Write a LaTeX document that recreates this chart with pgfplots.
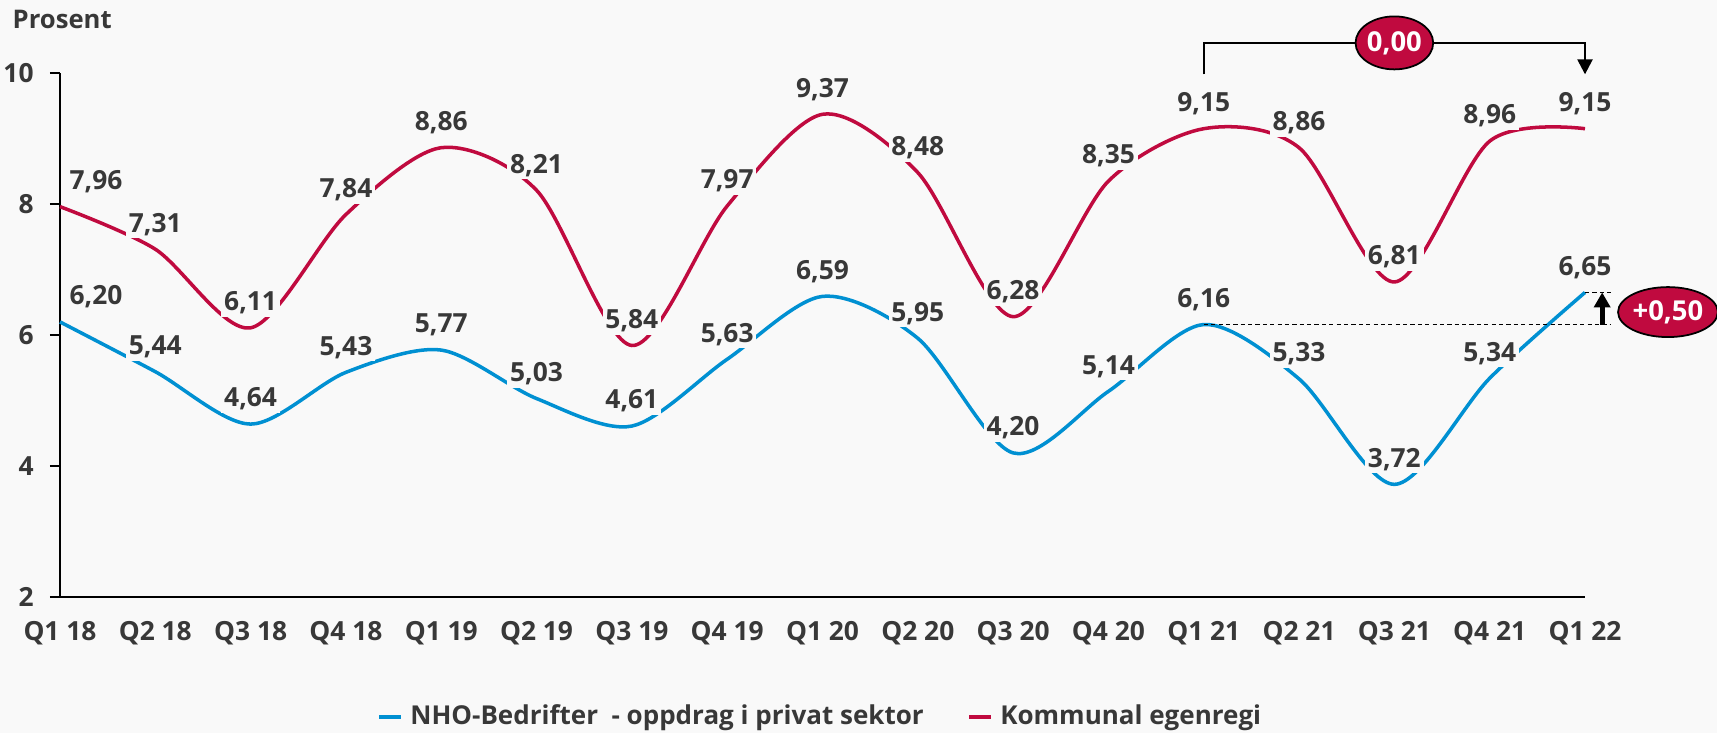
\documentclass[border=0pt]{standalone}
\usepackage{fontspec}
\setmainfont{Open Sans}
\usepackage{pgfplots}
\pgfplotsset{compat=1.18}
\usepackage{pgfplotstable}
\usetikzlibrary{arrows.meta,shapes.geometric}

\definecolor{bg}{RGB}{249,249,249}
\definecolor{nhoblue}{RGB}{0,144,210}
\definecolor{komred}{RGB}{192,10,63}
\definecolor{txt}{RGB}{56,56,56}
\newcommand{\lab}{\fontsize{7.5pt}{8.5pt}\selectfont\bfseries}

\pgfplotstableread{
x y lab
0 6.20 6,20
1 5.44 5,44
2 4.64 4,64
3 5.43 5,43
4 5.77 5,77
5 5.03 5,03
6 4.61 4,61
7 5.63 5,63
8 6.59 6,59
9 5.95 5,95
10 4.20 4,20
11 5.14 5,14
12 6.16 6,16
13 5.33 5,33
14 3.72 3,72
15 5.34 5,34
16 6.65 6,65
}\nho

\pgfplotstableread{
x y lab
0 7.96 7,96
1 7.31 7,31
2 6.11 6,11
3 7.84 7,84
4 8.86 8,86
5 8.21 8,21
6 5.84 5,84
7 7.97 7,97
8 9.37 9,37
9 8.48 8,48
10 6.28 6,28
11 8.35 8,35
12 9.15 9,15
13 8.86 8,86
14 6.81 6,81
15 8.96 8,96
16 9.15 9,15
}\kom

\begin{document}
\begin{tikzpicture}
\useasboundingbox (0,0) rectangle (171.7mm,73.3mm);
\fill[bg] (0,0) rectangle (171.7mm,73.3mm);
\node[anchor=west, font=\fontsize{7.3pt}{8pt}\selectfont\bfseries, text=txt, inner sep=0pt] at (1.2mm,71.4mm) {Prosent};
\begin{axis}[
  at={(6mm,13.6mm)}, anchor=south west,
  scale only axis, width=152.5mm, height=52.4mm,
  xmin=0, xmax=16, ymin=2, ymax=10,
  clip=false,
  axis lines=left,
  axis line style={-, line width=0.7pt, black},
  xtick={0,...,16},
  xticklabels={Q1 18,Q2 18,Q3 18,Q4 18,Q1 19,Q2 19,Q3 19,Q4 19,Q1 20,Q2 20,Q3 20,Q4 20,Q1 21,Q2 21,Q3 21,Q4 21,Q1 22},
  ytick={2,4,6,8,10},
  tick align=outside,
  major tick length=1mm,
  xtick style={draw=none},
  ytick style={line width=0.7pt, black},
  tick label style={font=\lab, text=txt},
  yticklabel style={xshift=-0.4mm},
  xticklabel style={yshift=-0.2mm},
  /pgf/number format/assume math mode=true,
  legend style={at={(0.5,-0.229)}, anchor=center, draw=none, fill=none,
    font=\fontsize{7.4pt}{8.5pt}\selectfont\bfseries, text=txt, legend columns=2,
    /tikz/every even column/.append style={column sep=3.6mm}},
  legend image code/.code={\draw[#1, line width=1.3pt] (0mm,0mm) -- (2.2mm,0mm);},
]
\addplot[nhoblue, line width=1pt, smooth, no markers,
  nodes near coords, point meta=explicit symbolic,
  nodes near coords style={anchor=center, yshift=2.5mm, fill=bg, inner sep=0.8pt, font=\lab, text=txt},
  coordinate style/.condition={\coordindex==0}{xshift=3.6mm}]
  table[x=x, y=y, meta=lab] {\nho};
\addlegendentry{NHO-Bedrifter\ \ - oppdrag i privat sektor}
\addplot[komred, line width=1pt, smooth, no markers,
  nodes near coords, point meta=explicit symbolic,
  nodes near coords style={anchor=center, yshift=2.5mm, fill=bg, inner sep=0.8pt, font=\lab, text=txt},
  coordinate style/.condition={\coordindex==0}{xshift=3.6mm}]
  table[x=x, y=y, meta=lab] {\kom};
\addlegendentry{Kommunal egenregi}

% annotations
\draw[black, line width=0.7pt, -{Triangle[length=1.5mm, width=1.5mm]}]
  (axis cs:12,9.98) -- (axis cs:12,10.46) -- (axis cs:16,10.46) -- (axis cs:16,9.98);
\node[ellipse, draw=black, line width=0.5pt, fill=komred, minimum width=7.7mm, minimum height=5.3mm,
  inner sep=0pt, text=white, font=\fontsize{7.8pt}{8pt}\selectfont\bfseries] at (axis cs:14,10.46) {0,00};
\draw[black, line width=0.4pt, dash pattern=on 1.2pt off 0.9pt] (axis cs:12,6.16) -- (axis cs:16.27,6.16);
\draw[black, line width=0.4pt, dash pattern=on 1.2pt off 0.9pt] (axis cs:16,6.65) -- (axis cs:16.27,6.65);
\draw[black, line width=1.4pt, -{Triangle[length=1.5mm, width=1.6mm]}] (axis cs:16.18,6.16) -- (axis cs:16.18,6.65);
\node[ellipse, draw=black, line width=0.5pt, fill=komred, minimum width=9.4mm, minimum height=5.0mm,
  inner sep=0pt, text=white, font=\fontsize{7.8pt}{8pt}\selectfont\bfseries] at (axis cs:16.87,6.35) {+0,50};
\end{axis}
\end{tikzpicture}
\end{document}
